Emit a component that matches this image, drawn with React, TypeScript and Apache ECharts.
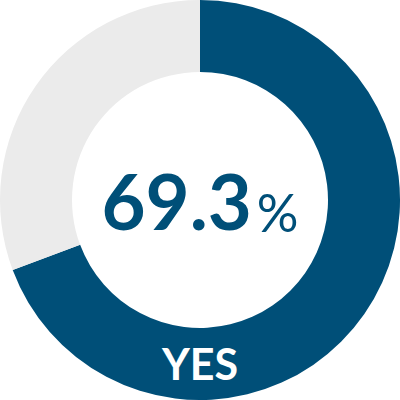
import { useEffect, useRef } from 'react';
import * as echarts from 'echarts';

const CATEGORIES = ['YES', 'NO'];
const VALUES = [69.3, 30.7];
const COLORS = ['#004f78', '#ebebeb'];

export default function App() {
  const ref = useRef<HTMLDivElement>(null);

  useEffect(() => {
    document.body.style.margin = '0';
    if (!ref.current) return;
    const chart = echarts.init(ref.current, undefined, { renderer: 'svg' });

    chart.setOption({
      animation: false,
      backgroundColor: '#ffffff',
      title: {
        text: `{num|${VALUES[0]}}{pct|%}`,
        left: 'center',
        top: 'middle',
        textStyle: {
          rich: {
            num: { fontFamily: 'Lato', fontWeight: 'bold', fontSize: 76, color: COLORS[0], verticalAlign: 'bottom' },
            pct: { fontFamily: 'Lato', fontWeight: 'normal', fontSize: 52, color: COLORS[0], padding: [0, 0, 0, 5], verticalAlign: 'bottom' },
          },
        },
      },
      series: [
        {
          type: 'pie',
          center: ['50%', '50%'],
          radius: [128, 200],
          startAngle: 90,
          clockwise: true,
          silent: true,
          label: { show: false },
          labelLine: { show: false },
          data: CATEGORIES.map((name, i) => ({
            name,
            value: VALUES[i],
            itemStyle: { color: COLORS[i] },
          })),
        },
      ],
      graphic: [
        {
          type: 'text',
          left: 'center',
          top: 342,
          z: 100,
          style: {
            text: CATEGORIES[0],
            fill: '#ffffff',
            font: 'bold 43px Lato',
          },
        },
      ],
    });

    return () => chart.dispose();
  }, []);

  return <div ref={ref} style={{ width: 400, height: 400 }} />;
}
